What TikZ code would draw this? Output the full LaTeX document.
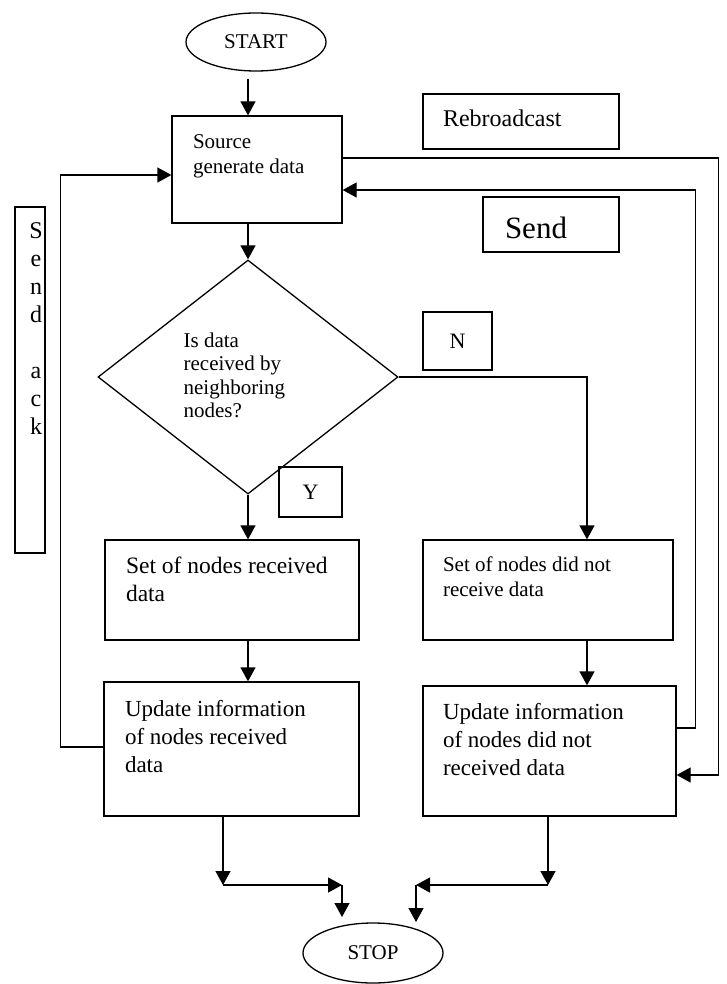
\documentclass[tikz,border=0pt]{standalone}
\usepackage{fontspec}
\setmainfont{Liberation Serif}
\usetikzlibrary{shapes.geometric,arrows.meta,positioning}
\begin{document}
\begin{tikzpicture}[x=1pt,y=-1pt,line width=1.3pt,
 box/.style={draw,rectangle,inner sep=0pt},
 oval/.style={draw,ellipse,minimum width=140pt,minimum height=58pt,inner sep=0pt,font=\fontsize{21}{25}\selectfont},
 txt/.style={inner sep=0pt,align=left,anchor=north west},
 arr/.style={-{Triangle[length=14pt,width=15pt]}},
 ]
 \useasboundingbox (0,0) rectangle (726,984);
 \node[oval] (start) at (256,42) {START}; % <<< top
 \node[box,minimum width=170pt,minimum height=107pt] (src) at (257,169.5) {};
 \node[txt,font=\fontsize{21}{25}\selectfont,below right=19pt and 21pt of src.north west] (srcT) {Source\\generate data};
 \node[box,minimum width=196pt,minimum height=55pt] (rb) at (521,121.5) {};
 \node[txt,font=\fontsize{24}{28}\selectfont,below right=16pt and 20pt of rb.north west] (rbT) {Rebroadcast};
 \node[box,minimum width=136pt,minimum height=55pt] (snd) at (551,224.5) {};
 \node[txt,font=\fontsize{31}{36}\selectfont,below right=20pt and 22pt of snd.north west] (sndT) {Send};
 \node[box,minimum width=30pt,minimum height=346pt] (ack) at (30,380) {};
 \node[inner sep=0pt,align=center,font=\fontsize{24}{28}\selectfont,below=16pt of ack.north,xshift=6pt] (ackT) {S\\e\\n\\d\\[28pt]a\\c\\k};
 \node[draw,diamond,minimum width=300pt,minimum height=234pt,inner sep=0pt] (dia) at (248,377) {}; % <<< test
 \node[txt,font=\fontsize{21}{23.5}\selectfont] (diaT) at ([shift={(-65,-45)}]dia.center) {Is data\\received by\\neighboring\\nodes?};
 \node[box,minimum width=69pt,minimum height=58pt,font=\fontsize{22}{26}\selectfont] (no) at (457.5,341) {N};
 \node[box,minimum width=63pt,minimum height=50pt,font=\fontsize{22}{26}\selectfont] (yes) at (310.5,492) {Y};
 \node[box,minimum width=254pt,minimum height=100pt] (setR) at (232,590) {}; % <<< Y branch
 \node[txt,font=\fontsize{23.5}{28}\selectfont,below right=17pt and 21pt of setR.north west] (setRT) {Set of nodes received\\data};
 \node[box,minimum width=255pt,minimum height=134pt] (updR) at (231.5,749) {};
 \node[txt,font=\fontsize{23}{28}\selectfont,below right=18pt and 21pt of updR.north west] (updRT) {Update information\\of nodes received\\data};
 \node[box,minimum width=250pt,minimum height=100pt] (setN) at (548,590) {}; % <<< N branch
 \node[txt,font=\fontsize{21}{25}\selectfont,below right=17pt and 20pt of setN.north west] (setNT) {Set of nodes did not\\receive data};
 \node[box,minimum width=253pt,minimum height=130pt] (updN) at (549.5,751) {};
 \node[txt,font=\fontsize{23}{28}\selectfont,below right=17pt and 20pt of updN.north west] (updNT) {Update information\\of nodes did not\\received data};
 \node[oval,minimum height=60pt] (stop) at (373,953) {STOP}; % <<< bottom
 \coordinate (nx) at ([xshift=39pt]setN.north);
 \coordinate (jl) at (223,885);
 \coordinate (jl2) at (342,885);
 \coordinate (jr) at (548,885);
 \coordinate (jr2) at (416,885);
 \draw[arr,shorten <=7pt] (start.south -| dia.north) -- (src.north -| dia.north);
 \draw[arr] (src.south -| dia.north) -- (dia.north);
 \draw[arr] (dia.south) -- (dia.south |- setR.north);
 \draw[arr] (setR.south -| dia.south) -- (updR.north -| dia.south);
 \draw[arr] (dia.east) -| (nx);
 \draw[arr] (setN.south -| nx) -- (updN.north -| nx);
 \draw[arr] ([yshift=11.5pt]src.east) -- ++(376,0) |- ([yshift=-24pt]updN.east);
 \draw[arr] ([yshift=23pt]updN.east) -- ++(19,0) |- ([yshift=-20.5pt]src.east);
 \draw[arr] ([yshift=2pt]updR.west) -- ++(-43,0) |- ([yshift=-5.5pt]src.west);
 \draw[arr] (updR.south -| jl) -- (jl);
 \draw[arr] (jl) -- (jl2);
 \draw[arr] (jl2) -- ++(0,32);
 \draw[arr] (updN.south -| jr) -- (jr);
 \draw[arr] (jr) -- (jr2);
 \draw[arr] (jr2) -- ++(0,37);
\end{tikzpicture}
\end{document}
